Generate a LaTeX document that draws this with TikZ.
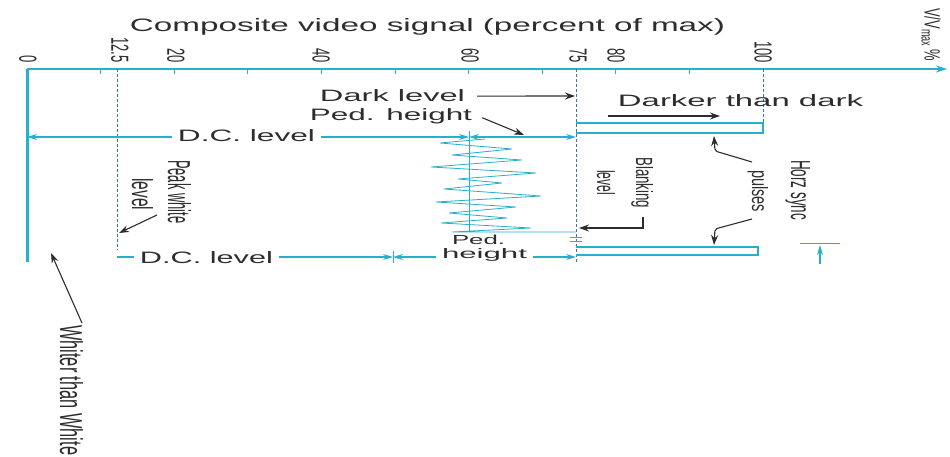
\documentclass[tikz,border=0pt]{standalone}
\usepackage{fontspec}
\setmainfont{Liberation Sans}
\usetikzlibrary{arrows.meta}
\definecolor{sig}{RGB}{38,176,204}
\definecolor{sigd}{RGB}{60,120,150}
\definecolor{ink}{RGB}{45,45,45}
\newcommand{\hw}[2]{\resizebox{#1pt}{\height}{#2}}
\newcommand{\vw}[3]{\resizebox{#1pt}{#2pt}{#3}}
\begin{document}
\begin{tikzpicture}[x=1pt,y=-1pt,
  sigline/.style={draw=sig, line width=1.2pt},
  dashl/.style={draw=sigd, line width=0.9pt, dash pattern=on 3pt off 2pt},
  cytip/.tip={Stealth[length=10pt,width=6pt]},
  cyarrow/.style={draw=sig, line width=1.2pt, -cytip},
  cyboth/.style={draw=sig, line width=1.2pt, cytip-cytip},
  blarrow/.style={draw=ink, line width=1.1pt, -{Stealth[length=10pt,width=7pt]}, rounded corners=2pt},
  htxt/.style={inner sep=0pt, anchor=base, text=ink, font=\fontsize{16.5}{18}\selectfont},
  gap/.style={fill=white, inner xsep=6pt, inner ysep=1pt},
  vtxt/.style={inner sep=0pt, rotate=-90, anchor=base west, text=ink, font=\fontsize{13}{15}\selectfont},
  tlab/.style={inner sep=0pt, rotate=-90, anchor=east, text=ink, font=\fontsize{13}{15}\selectfont},
]
\useasboundingbox (0,0) rectangle (950,457);
\fill[white] (0,0) rectangle (950,457);

% ---- axis
\coordinate (ax0) at (27,69);
\coordinate (axE) at (947,69);
\draw[sig, line width=1.4pt, -{Stealth[length=11pt,width=7pt]}] (ax0) -- (axE);
\foreach \p in {10,20,...,90} \draw[sig, line width=0.9pt] ({27+7.36*\p},69) -- ++(0,5);

% ---- tick labels
\node[tlab] (t0) at (28,63) {\scalebox{1}[1.9]{0}};
\node[tlab] (t1) at (120,63) {\scalebox{1}[1.9]{12.5}};
\node[tlab] (t2) at (176,63) {\scalebox{1}[1.9]{20}};
\node[tlab] (t3) at (321,63) {\scalebox{1}[1.9]{40}};
\node[tlab] (t4) at (470,63) {\scalebox{1}[1.9]{60}};
\node[tlab] (t5) at (578,63) {\scalebox{1}[1.9]{75}};
\node[tlab] (t6) at (616,63) {\scalebox{1}[1.9]{80}};
\node[tlab] (t7) at (763,63) {\scalebox{1}[1.9]{100}};
\node[inner sep=0pt, rotate=-90, anchor=west, text=ink, font=\fontsize{13}{15}\selectfont] (vv) at (931,8) {\scalebox{1}[1.7]{V/V\textsubscript{max}\,\%}};

% ---- title
\node[htxt, font=\fontsize{18}{20}\selectfont] (title) at (427.5,32) {\hw{595}{Composite video signal (percent of max)}};

% ---- level lines
\coordinate (z0) at (27,69);  \coordinate (z1) at (27,262);
\draw[sig, line width=3pt] (z0) -- (z1);
\coordinate (pw0) at (117,69); \coordinate (pw1) at (117,250);
\draw[dashl] (pw0) -- (pw1);
\coordinate (bk0) at (576,69); \coordinate (bk1) at (576,262);
\draw[dashl] (bk0) -- (bk1);
\coordinate (sy0) at (763,69); \coordinate (sy1) at (763,128);
\draw[dashl] (sy0) -- (sy1);
\coordinate (m0) at (469,131); \coordinate (m1) at (469,232);
\draw[sig, line width=0.9pt] (m0) -- (m1);

% ---- sync pulses
\draw[sigline] (576,123) -- (763,123) -- (763,133) -- (576,133);
\draw[sigline] (576,247) -- (758,247) -- (758,255) -- (576,255);

% ---- video noise
\draw[sig, line width=0.8pt] (485,139) -- (440,143) -- (512,149) -- (452,155) -- (522,160) -- (431,167)
  -- (536,173) -- (458,179) -- (502,183) -- (444,189) -- (541,196) -- (436,202) -- (516,207)
  -- (449,213) -- (507,218) -- (441,223) -- (531,228) -- (452,232) -- (576,232);
\draw[sig, line width=0.8pt] (570,237) -- (582,237) (570,241) -- (582,241);

% ---- top row: D.C. level / Ped. height
\coordinate (r1a) at (27,137); \coordinate (r1b) at (469,137); \coordinate (r1c) at (576,137);
\draw[cyboth] (r1a) -- (r1b);
\draw[cyboth] (r1b) -- (r1c);
\node[htxt, gap] (dc1) at (246.5,142) {\hw{137}{D.C. level}};

% ---- lower row
\coordinate (r2a) at (117,257); \coordinate (r2b) at (393,257); \coordinate (r2c) at (576,257);
\draw[cyarrow] (r2a) -- (r2b);
\draw[cyboth] (r2b) -- (r2c);
\draw[sig, line width=0.9pt] (393,251) -- (393,263);
\node[htxt, gap] (dc2) at (206.5,263) {\hw{133}{D.C. level}};
\node[htxt, fill=white, inner xsep=6pt, inner ysep=0pt] (ph2) at (484.5,258.5) {\vw{85}{10}{height}};
\node[htxt] (ph1) at (478.5,244) {\vw{53}{9.5}{Ped.}};

% ---- other labels
\node[htxt] (dark) at (392.5,102) {\hw{145}{Dark level}};
\coordinate (darkT) at (575,96);
\draw[blarrow] ([xshift=12pt]dark.east) -- (darkT);

\node[htxt] (dtd) at (740.5,107) {\hw{245}{Darker than dark}};
\coordinate (dd1) at (608,116); \coordinate (dd2) at (720,116);
\draw[blarrow] (dd1) -- (dd2);

\node[htxt] (ph) at (391,121) {\hw{162}{Ped. height}};
\coordinate (phT) at (524,135);
\draw[blarrow] ([xshift=10pt,yshift=-1pt]ph.east) -- (phT);

\node[vtxt] (pwa) at (168,160) {\vw{63}{23}{Peak white}};
\node[vtxt] (pwb) at (132,178) {\vw{32}{21}{level}};
\coordinate (pwS) at (157,215); \coordinate (pwT) at (119,233);
\draw[blarrow] (pwS) -- (pwT);

\node[vtxt] (bla) at (636,157) {\vw{51}{17}{Blanking}};
\node[vtxt] (blb) at (597,170) {\vw{25}{18}{level}};
\coordinate (blS) at (643,217); \coordinate (blC) at (643,228); \coordinate (blT) at (579,228);
\draw[blarrow, rounded corners=0pt] (blS) -- (blC) -- (blT);

\node[vtxt] (hsa) at (791,160) {\vw{60}{19}{Horz sync}};
\node[vtxt] (hsb) at (752,170) {\vw{42}{16}{pulses}};
\coordinate (hu0) at (752,162); \coordinate (hu1) at (715,151); \coordinate (hu2) at (714,136);
\draw[blarrow] (hu0) -- (hu1) -- (hu2);
\coordinate (hl0) at (752,219); \coordinate (hl1) at (715,229); \coordinate (hl2) at (714,245);
\draw[blarrow] (hl0) -- (hl1) -- (hl2);

\node[vtxt] (wtw) at (60,325) {\vw{130}{23}{Whiter than White}};
\coordinate (wS) at (82,323); \coordinate (wT) at (51,253);
\draw[blarrow] (wS) -- (wT);

% ---- small sync marker
\coordinate (sm0) at (800,243); \coordinate (sm1) at (840,243);
\draw[sig, line width=1pt] (sm0) -- (sm1);
\coordinate (sa0) at (820,264); \coordinate (sa1) at (820,245);
\draw[cyarrow] (sa0) -- (sa1);
\end{tikzpicture}
\end{document}
